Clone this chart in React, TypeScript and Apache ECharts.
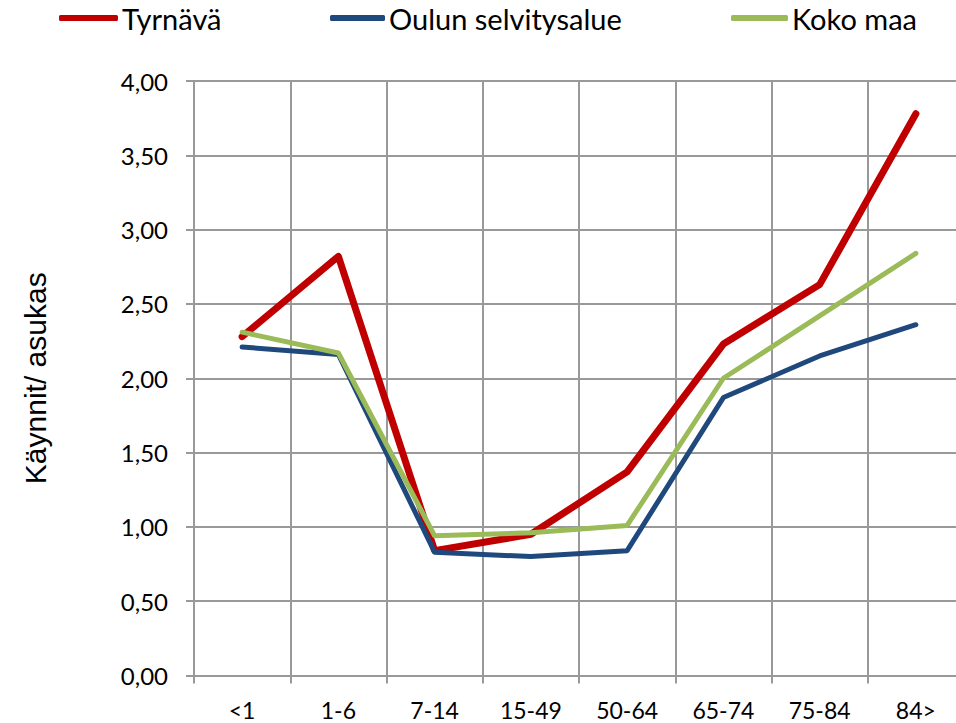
import React, { useEffect, useRef } from "react";
import * as echarts from "echarts";

const categories = ["<1", "1-6", "7-14", "15-49", "50-64", "65-74", "75-84", "84>"];
const tyrnava = [2.28, 2.82, 0.84, 0.95, 1.37, 2.23, 2.63, 3.78];
const oulun = [2.21, 2.16, 0.83, 0.80, 0.84, 1.87, 2.15, 2.36];
const kokoMaa = [2.31, 2.17, 0.94, 0.96, 1.01, 2.00, 2.42, 2.84];
const seriesNames = ["Tyrnävä", "Oulun selvitysalue", "Koko maa"];
const colors = ["#c00000", "#1f497d", "#9bbb59"];

export default function App() {
  const ref = useRef<HTMLDivElement>(null);
  useEffect(() => {
    if (!ref.current) return;
    const chart = echarts.init(ref.current, null, { renderer: "svg" });
    const gridColor = "#999999";
    const font = "Lato, 'Open Sans', sans-serif";
    const legendPos = [59, 330, 731];
    const legendW = [59, 55, 57];
    chart.setOption({
      animation: false,
      backgroundColor: "#ffffff",
      grid: { left: 194, width: 770, top: 81, height: 594.5, containLabel: false },
      legend: seriesNames.map((n, i) => ({
        data: [n],
        left: legendPos[i],
        top: 3,
        padding: 0,
        icon: "roundRect",
        itemWidth: legendW[i],
        itemHeight: 6,
        itemGap: 0,
        selectedMode: false,
        textStyle: { fontFamily: font, fontSize: 29, lineHeight: 30, color: "#000", padding: [0, 0, 0, -1] },
      })),
      xAxis: {
        type: "category",
        data: categories,
        boundaryGap: true,
        axisLine: { show: true, lineStyle: { color: gridColor, width: 2 } },
        axisTick: { show: true, length: 8, lineStyle: { color: gridColor, width: 2 } },
        splitLine: { show: true, lineStyle: { color: gridColor, width: 2 } },
        axisLabel: { fontFamily: font, fontSize: 23, color: "#000", margin: 23 },
      },
      yAxis: {
        type: "value",
        min: 0,
        max: 4,
        interval: 0.5,
        name: "Käynnit/ asukas",
        nameLocation: "middle",
        nameGap: 144,
        nameRotate: 90,
        nameTextStyle: { fontFamily: "'Liberation Sans', Arial, sans-serif", fontSize: 30, color: "#000" },
        axisLine: { show: true, lineStyle: { color: gridColor, width: 2 } },
        axisTick: { show: true, length: 8, lineStyle: { color: gridColor, width: 2 } },
        splitLine: { show: true, lineStyle: { color: gridColor, width: 2 } },
        axisLabel: {
          fontFamily: font,
          fontSize: 24,
          color: "#000",
          margin: 26,
          formatter: (v: number) => v.toFixed(2).replace(".", ","),
        },
      },
      series: [
        { name: seriesNames[0], type: "line", data: tyrnava, symbol: "none", color: colors[0], lineStyle: { width: 7, color: colors[0], cap: "round", join: "round" }, z: 3 },
        { name: seriesNames[1], type: "line", data: oulun, symbol: "none", color: colors[1], lineStyle: { width: 5, color: colors[1], cap: "round", join: "round" }, z: 4 },
        { name: seriesNames[2], type: "line", data: kokoMaa, symbol: "none", color: colors[2], lineStyle: { width: 5, color: colors[2], cap: "round", join: "round" }, z: 5 },
      ],
    });
    return () => chart.dispose();
  }, []);
  return (
    <div style={{ position: "absolute", left: 0, top: 0, width: 956, height: 723, overflow: "hidden" }}>
      <div ref={ref} style={{ width: 972, height: 723 }} />
    </div>
  );
}
